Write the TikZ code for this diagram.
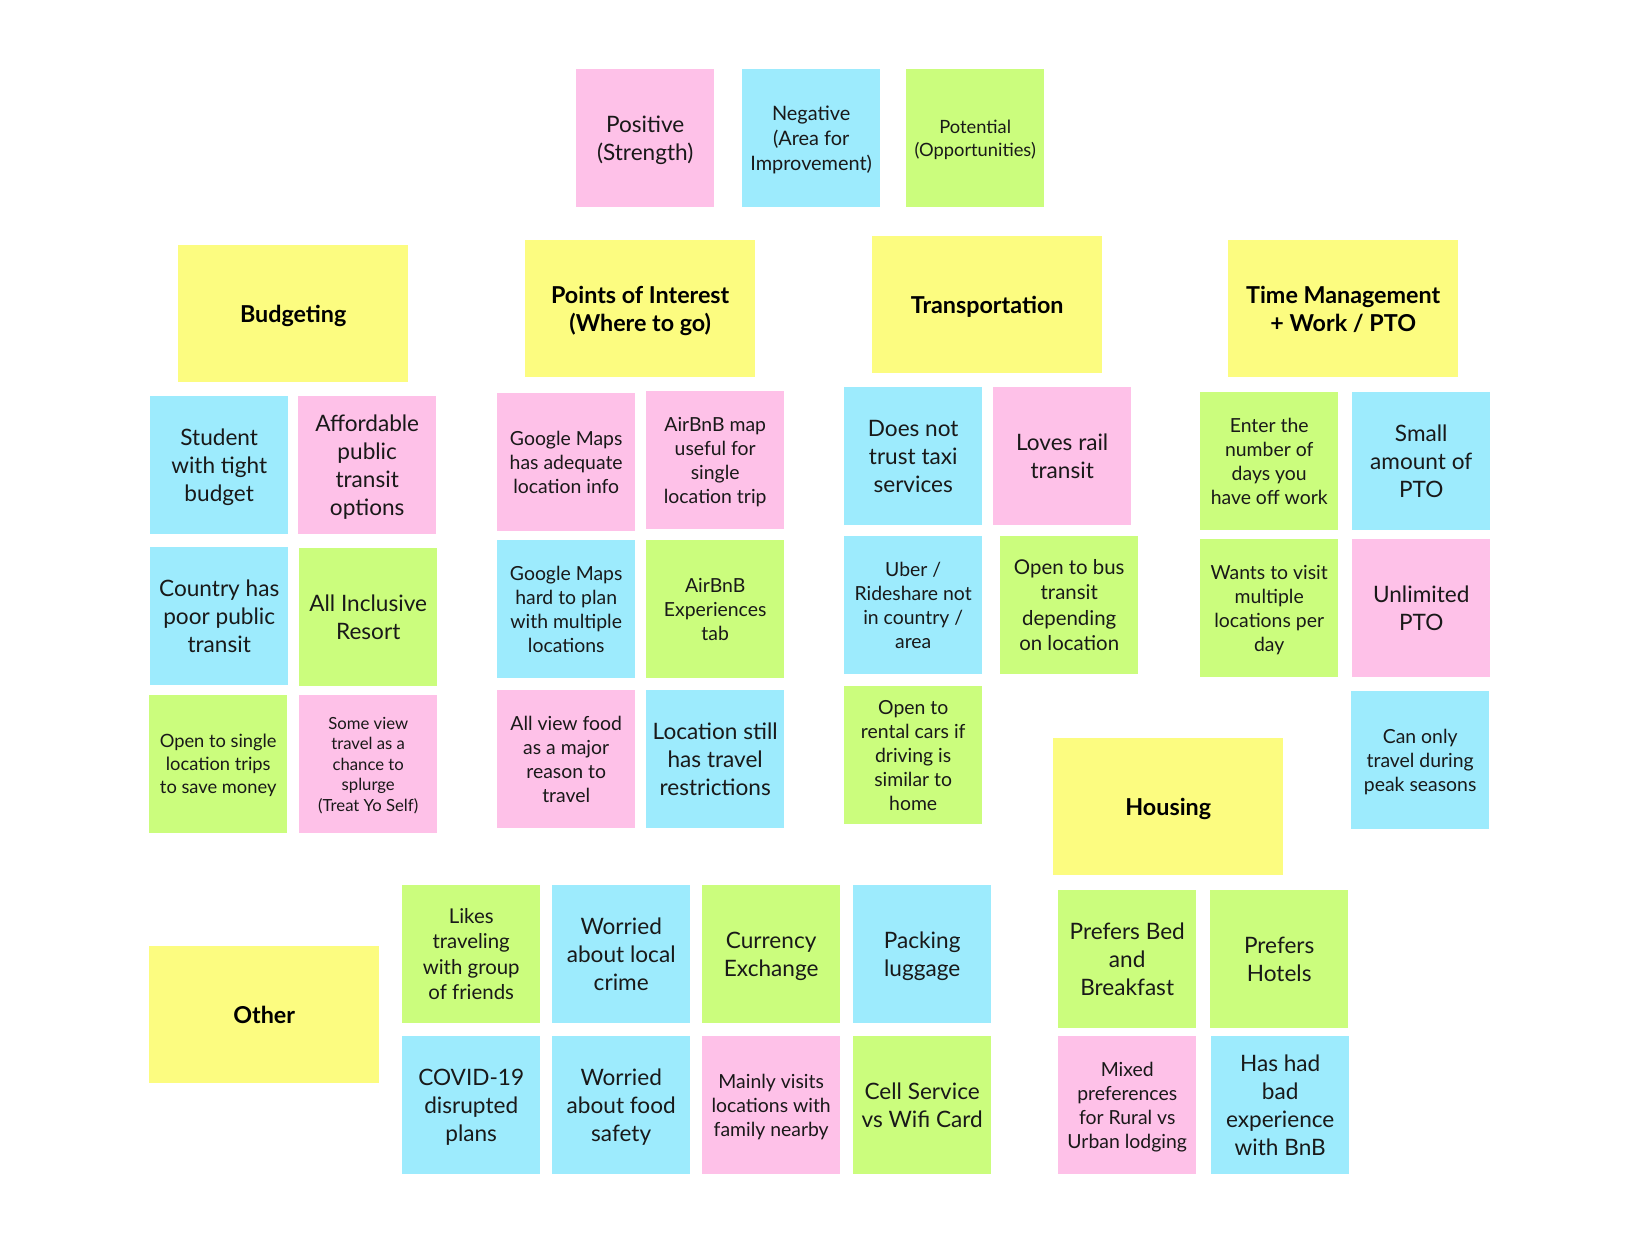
\documentclass[tikz,border=0pt]{standalone}
\usepackage{fontspec}
\setmainfont{Lato}
\definecolor{notepink}{RGB}{254,193,232}
\definecolor{noteblue}{RGB}{157,235,253}
\definecolor{notegreen}{RGB}{203,253,125}
\definecolor{noteyellow}{RGB}{252,252,128}
\definecolor{inkc}{RGB}{25,25,25}
\newdimen\nfs
\nfs=20pt
\newcommand{\topstrutx}{\rule{0pt}{1\nfs}}
\newcommand{\botstrutx}{\rule[-0.28\nfs]{0pt}{0.28\nfs}}
\newcommand{\T}[1]{\topstrutx#1\botstrutx}
\tikzset{
  base/.style={rectangle, inner sep=0pt, anchor=north west, align=center},
  nt/.style={base, minimum width=138pt, minimum height=138pt, text=inkc},
  hd/.style={base, minimum width=230pt, minimum height=137pt, text=black, fill=noteyellow, font=\fontsize{23.3}{28}\selectfont\bfseries, /utils/exec={\global\nfs=23.3pt}},
  pk/.style={nt, fill=notepink},
  bl/.style={nt, fill=noteblue},
  gr/.style={nt, fill=notegreen},
  szA/.style={font=\fontsize{22.6}{28}\selectfont, /utils/exec={\global\nfs=22.6pt}},
  szB/.style={font=\fontsize{19.4}{24}\selectfont, /utils/exec={\global\nfs=19.4pt}},
  szC/.style={font=\fontsize{20.4}{25.5}\selectfont, /utils/exec={\global\nfs=20.4pt}},
  szD/.style={font=\fontsize{18.3}{23}\selectfont, /utils/exec={\global\nfs=18.3pt}},
  szE/.style={font=\fontsize{16.7}{20.6}\selectfont, /utils/exec={\global\nfs=16.7pt}},
  szN/.style={font=\fontsize{19.9}{25}\selectfont, /utils/exec={\global\nfs=19.9pt}},
}
\begin{document}
\begin{tikzpicture}[x=1pt,y=-1pt]
\fill[white] (0,0) rectangle (1632,1236);
\useasboundingbox (0,0) rectangle (1632,1236);
% legend
\node[pk,szA] (pos) at (576,69) {\T{Positive\\(Strength)}};
\node[bl,szN] (neg) at (742,69) {\T{Negative\\(Area for\\Improvement)}};
\node[gr,szD] (pot) at (906,69) {\T{Potential\\(Opportunities)}};
% headers
\node[hd] (budget) at (178,245) {\T{Budgeting}};
\node[hd] (poi) at (525,240) {\T{Points of Interest\\(Where to go)}};
\node[hd] (trans) at (872,236) {\T{Transportation}};
\node[hd] (time) at (1228,240) {\T{Time Management\\+ Work / PTO}};
\node[hd] (housing) at (1053,738) {\T{Housing}};
\node[hd] (other) at (149,946) {\T{Other}};
% budgeting
\node[bl,szA] (student) at (150,396) {\T{Student\\with tight\\budget}};
\node[pk,szA] (afford) at (298,396) {\T{Affordable\\public\\transit\\options}};
\node[bl,szA] (country) at (150,547) {\T{Country has\\poor public\\transit}};
\node[gr,szA] (allinc) at (299,548) {\T{All Inclusive\\Resort}};
\node[gr,szD] (single) at (149,695) {\T{Open to single\\location trips\\to save money}};
\node[pk,szE] (splurge) at (299,695) {\T{Some view\\travel as a\\chance to\\splurge\\(Treat Yo Self)}};
% points of interest
\node[pk,szB] (gmok) at (497,393) {\T{Google Maps\\has adequate\\location info}};
\node[pk,szB] (abmap) at (646,391) {\T{AirBnB map\\useful for\\single\\location trip}};
\node[bl,szB] (gmhard) at (497,540) {\T{Google Maps\\hard to plan\\with multiple\\locations}};
\node[gr,szB] (abexp) at (646,540) {\T{AirBnB\\Experiences\\tab}};
\node[pk,szB] (food) at (497,690) {\T{All view food\\as a major\\reason to\\travel}};
\node[bl,szA] (restrict) at (646,690) {\T{Location still\\has travel\\restrictions}};
% transportation
\node[bl,szA] (taxi) at (844,387) {\T{Does not\\trust taxi\\services}};
\node[pk,szA] (rail) at (993,387) {\T{Loves rail\\transit}};
\node[bl,szB] (uber) at (844,536) {\T{Uber /\\Rideshare not\\in country /\\area}};
\node[gr,szC] (bus) at (1000,536) {\T{Open to bus\\transit\\depending\\on location}};
\node[gr,szB] (rental) at (844,686) {\T{Open to\\rental cars if\\driving is\\similar to\\home}};
% time management
\node[gr,szB] (enter) at (1200,392) {\T{Enter the\\number of\\days you\\have off work}};
\node[bl,szA] (smallpto) at (1352,392) {\T{Small\\amount of\\PTO}};
\node[gr,szB] (wants) at (1200,539) {\T{Wants to visit\\multiple\\locations per\\day}};
\node[pk,szA] (unlim) at (1352,539) {\T{Unlimited\\PTO}};
\node[bl,szB] (peak) at (1351,691) {\T{Can only\\travel during\\peak seasons}};
% housing
\node[gr,szA] (bnb) at (1058,890) {\T{Prefers Bed\\and\\Breakfast}};
\node[gr,szA] (hotels) at (1210,890) {\T{Prefers\\Hotels}};
\node[pk,szB] (mixed) at (1058,1036) {\T{Mixed\\preferences\\for Rural vs\\Urban lodging}};
\node[bl,szA] (badbnb) at (1211,1036) {\T{Has had\\bad\\experience\\with BnB}};
% other
\node[gr,szC] (friends) at (402,885) {\T{Likes\\traveling\\with group\\of friends}};
\node[bl,szA] (crime) at (552,885) {\T{Worried\\about local\\crime}};
\node[gr,szA] (currency) at (702,885) {\T{Currency\\Exchange}};
\node[bl,szA] (packing) at (853,885) {\T{Packing\\luggage}};
\node[bl,szA] (covid) at (402,1036) {\T{COVID-19\\disrupted\\plans}};
\node[bl,szA] (foodsafe) at (552,1036) {\T{Worried\\about food\\safety}};
\node[pk,szB] (family) at (702,1036) {\T{Mainly visits\\locations with\\family nearby}};
\node[gr,szA] (cell) at (853,1036) {\T{Cell Service\\vs Wifi Card}};
\end{tikzpicture}
\end{document}
